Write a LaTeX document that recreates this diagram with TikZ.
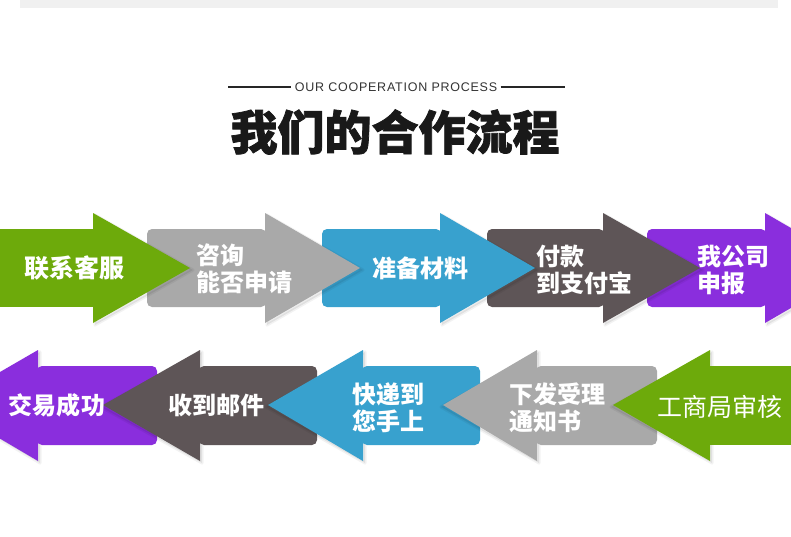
\documentclass[tikz,border=0pt]{standalone}
\usepackage{fontspec}
\newfontfamily\cjk{Noto Sans CJK SC}
\newfontfamily\titlefont[BoldFeatures={FakeBold=1.6}]{Noto Sans CJK SC}
\newfontfamily\capsans[LetterSpace=6]{Liberation Sans}
\usetikzlibrary{positioning}
\definecolor{stepgreen}{HTML}{6DAA0B}
\definecolor{stepgray}{HTML}{A9A9A9}
\definecolor{stepblue}{HTML}{38A1CE}
\definecolor{stepdark}{HTML}{5E5557}
\definecolor{steppurple}{HTML}{8A2EDD}
\tikzset
{
    steptext/.style  = {text=white, align=left, inner sep=0pt, font=\cjk\bfseries\fontsize{24}{27}\selectfont},
    headshadow/.style = {fill=black, opacity=0.07, draw=black, draw opacity=0.05, line width=3pt, line join=round},
    tailbody/.style  = {rounded corners=5pt},
    rule/.style      = {draw=black!85, line width=1.3pt}
}

\begin{document}
\begin{tikzpicture}[x=1pt, y=-1pt]
	\useasboundingbox (0,0) rectangle (791,537);
	\fill[white] (0,0) rectangle (791,537);
	\fill[black!6] (20,0) rectangle (778,8);

	% title
	\node (sub) [font=\capsans\fontsize{12.5}{14}\selectfont, text=black!80] at (396,87) {OUR COOPERATION PROCESS};
	\coordinate (rl) at (228,87);
	\coordinate (rr) at (565,87);
	\draw [rule] (rl) -- (sub.west);
	\draw [rule] (sub.east) -- (rr);
	\node (title) [font=\titlefont\bfseries\fontsize{47}{50}\selectfont, text=black!90] at (395,132) {我们的合作流程};

	% upper row, drawn from right to left
	\fill[headshadow] (767,215) -- (863,270) -- (767,325) -- cycle;
	\fill[steppurple, tailbody] (647,229) rectangle (766,307);
	\fill[steppurple] (765,213) -- (860,268) -- (765,323) -- cycle;
	\fill[headshadow] (605,215) -- (703,270) -- (605,325) -- cycle;
	\fill[stepdark, tailbody] (487,229) rectangle (604,307);
	\fill[stepdark] (603,213) -- (700,268) -- (603,323) -- cycle;
	\fill[headshadow] (442,215) -- (538,270) -- (442,325) -- cycle;
	\fill[stepblue, tailbody] (322,229) rectangle (441,307);
	\fill[stepblue] (440,213) -- (535,268) -- (440,323) -- cycle;
	\fill[headshadow] (267,215) -- (363,270) -- (267,325) -- cycle;
	\fill[stepgray, tailbody] (147,229) rectangle (266,307);
	\fill[stepgray] (265,213) -- (360,268) -- (265,323) -- cycle;
	\fill[headshadow] (95,215) -- (193,270) -- (95,325) -- cycle;
	\fill[stepgreen] (-10,229) rectangle (94,307);
	\fill[stepgreen] (93,213) -- (190,268) -- (93,323) -- cycle;

	% lower row, drawn from left to right
	\fill[headshadow] (40,352) -- (-55,407) -- (40,463) -- cycle;
	\fill[steppurple, tailbody] (37,366) rectangle (157,445);
	\fill[steppurple] (38,350) -- (-57,405) -- (38,461) -- cycle;
	\fill[headshadow] (202,352) -- (101,407) -- (202,463) -- cycle;
	\fill[stepdark, tailbody] (199,366) rectangle (317,445);
	\fill[stepdark] (200,350) -- (103,405) -- (200,461) -- cycle;
	\fill[headshadow] (365,352) -- (266,407) -- (365,463) -- cycle;
	\fill[stepblue, tailbody] (362,366) rectangle (480,445);
	\fill[stepblue] (363,350) -- (268,405) -- (363,461) -- cycle;
	\fill[headshadow] (539,352) -- (441,407) -- (539,463) -- cycle;
	\fill[stepgray, tailbody] (536,366) rectangle (657,445);
	\fill[stepgray] (537,350) -- (443,405) -- (537,461) -- cycle;
	\fill[headshadow] (712,352) -- (611,407) -- (712,463) -- cycle;
	\fill[stepgreen] (709,366) rectangle (800,445);
	\fill[stepgreen] (710,350) -- (613,405) -- (710,461) -- cycle;

	% step labels
	\node (s1) [steptext, font=\cjk\bfseries\fontsize{25}{27}\selectfont] at (74,268) {联系客服};
	\node (s2) [steptext, anchor=west] at (196,269) {咨询\\能否申请};
	\node (s3) [steptext] at (420,268) {准备材料};
	\node (s4) [steptext, anchor=west] at (536,270) {付款\\到支付宝};
	\node (s5) [steptext, anchor=west] at (697,270) {我公司\\申报};
	\node (s6) [steptext] at (57,405) {交易成功};
	\node (s7) [steptext] at (216,405) {收到邮件};
	\node (s8) [steptext, anchor=west] at (352,408) {快递到\\您手上};
	\node (s9) [steptext, anchor=west] at (509,408) {下发受理\\通知书};
	\node (s10) [steptext, font=\cjk\fontsize{25}{27}\selectfont] at (720,407) {工商局审核};
\end{tikzpicture}
\end{document}
